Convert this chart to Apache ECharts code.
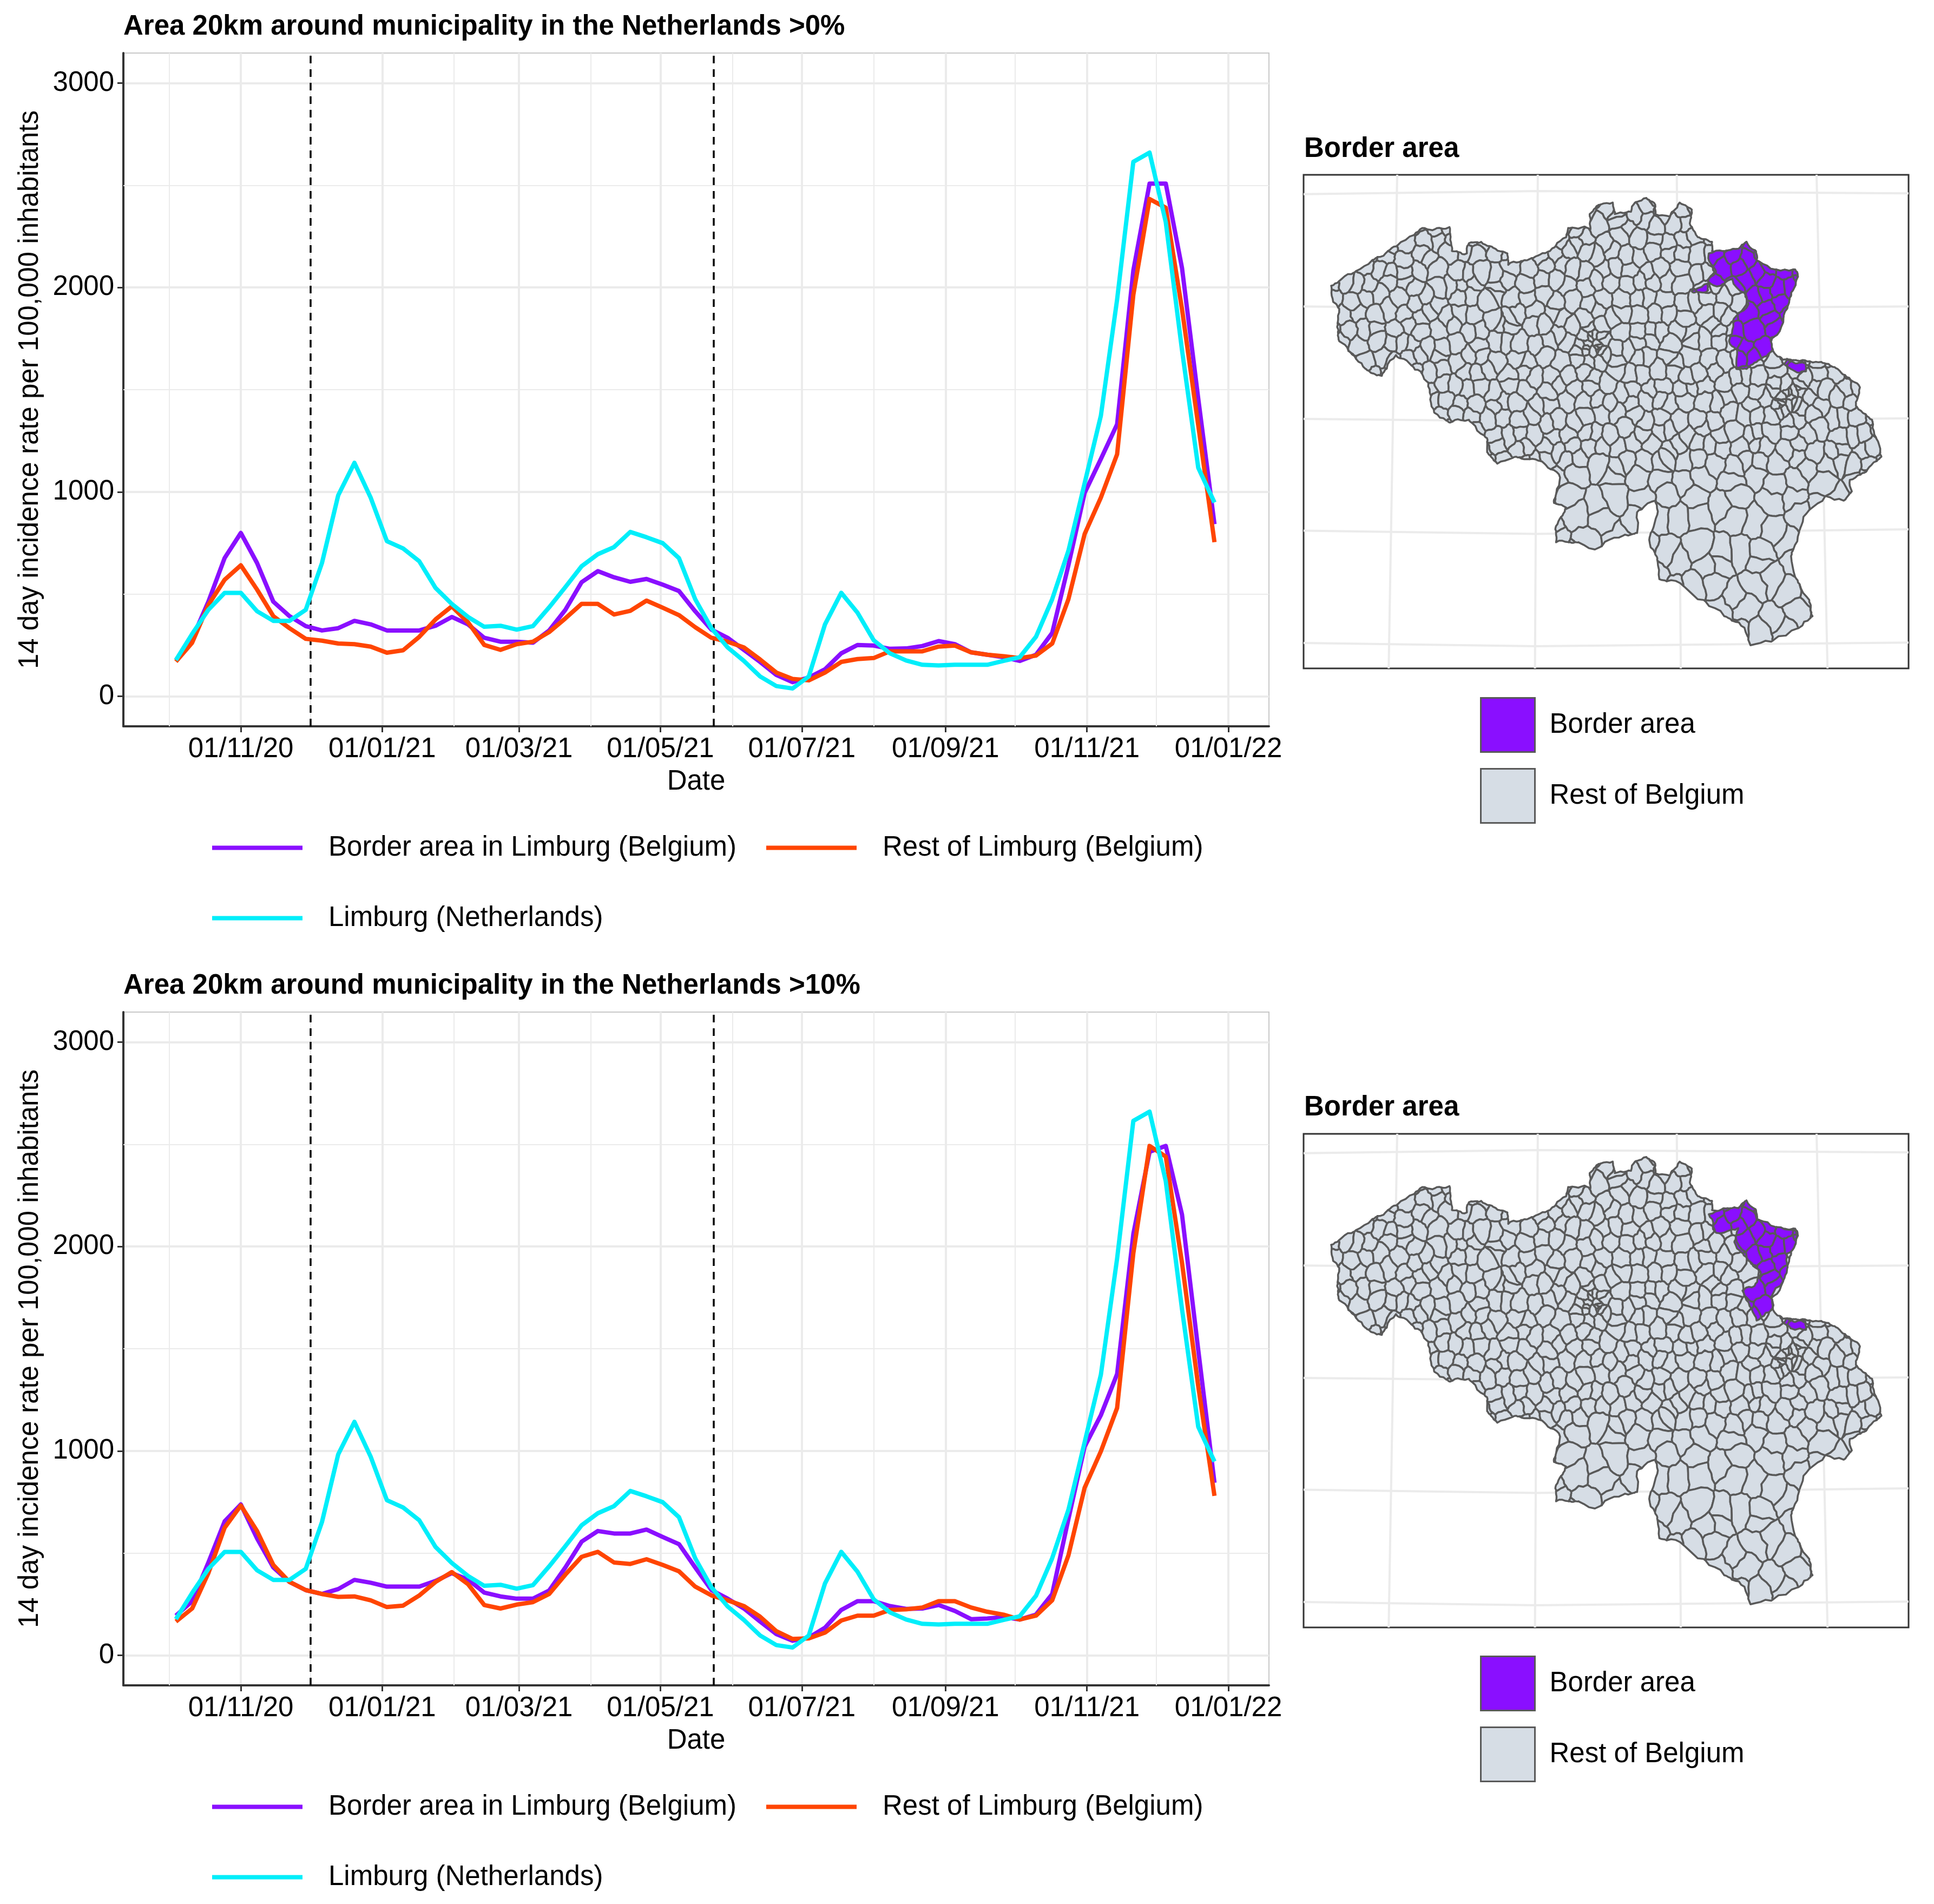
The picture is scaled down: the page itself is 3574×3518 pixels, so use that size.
<!DOCTYPE html>
<html>

<head>
	<meta charset="utf-8">
</head>

<body style="margin: 0; background: #fff">
	<div id="container" style="width: 3574px; height: 3518px;"></div>

	<script type="text/javascript" src="https://cdn.jsdelivr.net/npm/echarts@6/dist/echarts.min.js"></script>
	<script type="text/javascript">
		// weekly dates shared by all curves
		const weekDates = [
			'2020-10-04', '2020-10-11', '2020-10-18', '2020-10-25', '2020-11-01', '2020-11-08', '2020-11-15', '2020-11-22', '2020-11-29',
			'2020-12-06', '2020-12-13', '2020-12-20', '2020-12-27', '2021-01-03', '2021-01-10', '2021-01-17', '2021-01-24', '2021-01-31',
			'2021-02-07', '2021-02-14', '2021-02-21', '2021-02-28', '2021-03-07', '2021-03-14', '2021-03-21', '2021-03-28', '2021-04-04',
			'2021-04-11', '2021-04-18', '2021-04-25', '2021-05-02', '2021-05-09', '2021-05-16', '2021-05-23', '2021-05-30', '2021-06-06',
			'2021-06-13', '2021-06-20', '2021-06-27', '2021-07-04', '2021-07-11', '2021-07-18', '2021-07-25', '2021-08-01', '2021-08-08',
			'2021-08-15', '2021-08-22', '2021-08-29', '2021-09-05', '2021-09-12', '2021-09-19', '2021-09-26', '2021-10-03', '2021-10-10',
			'2021-10-17', '2021-10-24', '2021-10-31', '2021-11-07', '2021-11-14', '2021-11-21', '2021-11-28', '2021-12-05', '2021-12-12',
			'2021-12-19', '2021-12-26'
		];

		const limburgNL = [
			177, 305, 423, 506, 506, 416, 369, 369, 423, 652, 983, 1142, 972, 759, 723, 660, 530, 452, 388, 340, 345, 326, 343, 435, 534,
			636, 695, 730, 804, 778, 749, 676, 475, 333, 239, 173, 97, 50, 38, 97, 352, 506, 409, 274, 210, 175, 154, 151, 154, 154, 154,
			173, 191, 291, 475, 712, 1043, 1373, 1941, 2615, 2660, 2319, 1693, 1118, 948
		];

		const borderAbove0 = [
			177, 281, 463, 676, 799, 652, 463, 392, 343, 322, 333, 369, 352, 322, 322, 322, 345, 388, 352, 286, 267, 267, 262, 322, 423,
			558, 612, 582, 560, 574, 546, 515, 416, 326, 286, 227, 168, 104, 69, 92, 132, 210, 251, 248, 232, 234, 246, 270, 255, 215, 203,
			191, 173, 203, 310, 641, 995, 1161, 1331, 2083, 2508, 2508, 2095, 1456, 842
		];
		const restAbove0 = [
			170, 262, 447, 570, 641, 522, 392, 333, 281, 272, 258, 255, 243, 213, 225, 291, 376, 440, 362, 251, 227, 255, 267, 314, 381,
			452, 452, 400, 418, 468, 433, 397, 338, 286, 267, 239, 180, 116, 85, 78, 116, 168, 182, 187, 220, 220, 220, 243, 248, 215, 203,
			196, 187, 199, 258, 475, 794, 972, 1184, 1964, 2433, 2390, 1894, 1326, 754
		];

		const borderAbove10 = [
			194, 265, 454, 655, 738, 572, 430, 359, 319, 300, 324, 369, 355, 336, 336, 336, 364, 402, 371, 307, 288, 277, 277, 317, 430,
			556, 608, 596, 596, 615, 579, 544, 430, 319, 277, 229, 165, 104, 71, 87, 135, 222, 265, 265, 241, 227, 229, 246, 217, 177, 180,
			187, 175, 199, 300, 667, 1021, 1175, 1376, 2061, 2463, 2492, 2156, 1494, 844
		];
		const restAbove10 = [
			165, 229, 402, 624, 733, 608, 442, 359, 319, 300, 286, 288, 269, 236, 243, 293, 359, 407, 348, 246, 229, 248, 260, 300, 395,
			482, 506, 454, 447, 470, 442, 411, 336, 293, 269, 241, 189, 118, 80, 83, 111, 170, 194, 194, 222, 225, 234, 265, 265, 234, 213,
			199, 175, 194, 269, 489, 820, 998, 1210, 1967, 2492, 2440, 1920, 1317, 780
		];

		const xTickDates = ['2020-11-01', '2021-01-01', '2021-03-01', '2021-05-01', '2021-07-01', '2021-09-01', '2021-11-01', '2022-01-01'];
		const xTickLabels = ['01/11/20', '01/01/21', '01/03/21', '01/05/21', '01/07/21', '01/09/21', '01/11/21', '01/01/22'];
		const xMinorDates = ['2020-10-01', '2020-12-01', '2021-02-01', '2021-04-01', '2021-06-01', '2021-08-01', '2021-10-01', '2021-12-01'];
		const yTicks = [0, 1000, 2000, 3000];
		const yMinor = [500, 1500, 2500];
		const interventionDates = ['2020-12-01', '2021-05-24'];

		// map shapes in the coordinates of the map panel
		const belgiumOutline = [
			[80, 360], [130, 335], [190, 300], [240, 275], [285, 250], [305, 235], [330, 240], [372, 233], [378, 285], [415, 290], [420, 268],
			[450, 265], [480, 278], [515, 290], [517, 315], [560, 305], [590, 295], [620, 285], [660, 255], [665, 235], [705, 232], [720, 238],
			[718, 205], [740, 185], [775, 180], [780, 205], [820, 200], [830, 180], [858, 170], [880, 185], [880, 205], [915, 210], [940, 180],
			[970, 195], [965, 225], [985, 255], [1020, 265], [1020, 285], [1050, 285], [1085, 280], [1105, 265], [1128, 285], [1130, 305],
			[1175, 325], [1225, 325], [1232, 340], [1215, 375], [1205, 410], [1195, 440], [1165, 480], [1170, 500], [1195, 520], [1230, 522],
			[1290, 525], [1330, 540], [1385, 580], [1375, 620], [1415, 650], [1425, 690], [1438, 730], [1395, 765], [1360, 780], [1365, 805],
			[1345, 825], [1300, 815], [1260, 845], [1240, 880], [1215, 945], [1225, 990], [1260, 1040], [1268, 1075], [1235, 1100], [1165, 1130],
			[1115, 1138], [1100, 1100], [1050, 1075], [1000, 1040], [950, 1010], [890, 995], [885, 950], [865, 910], [885, 855], [880, 825],
			[835, 850], [835, 895], [790, 905], [745, 925], [690, 915], [635, 915], [635, 880], [660, 840], [630, 830], [645, 775], [600, 740],
			[535, 730], [490, 745], [465, 720], [465, 690], [420, 650], [370, 655], [335, 635], [320, 570], [300, 545], [240, 510], [205, 555],
			[185, 550], [165, 540], [100, 480], [95, 450], [100, 410], [85, 395]
		];
		const borderAreaAbove0 = [
			[[1012, 290], [1050, 285], [1085, 280], [1105, 265], [1128, 285], [1130, 305], [1175, 325], [1225, 325], [1232, 340], [1215, 375],
				[1205, 410], [1195, 440], [1165, 480], [1170, 500], [1130, 525], [1105, 540], [1080, 540], [1082, 500], [1062, 480], [1075, 430],
				[1110, 400], [1100, 375], [1070, 345], [1040, 360], [1010, 350], [1030, 330], [1015, 310]],
			[[970, 372], [1010, 355], [1010, 370], [975, 375]],
			[[1198, 530], [1205, 518], [1225, 528], [1250, 525], [1252, 545], [1225, 545]]
		];
		const borderAreaAbove10 = [
			[[1012, 294], [1050, 281], [1085, 281], [1105, 264], [1128, 284], [1130, 304], [1175, 321], [1225, 329], [1230, 339], [1225, 359],
				[1205, 379], [1205, 414], [1195, 439], [1165, 474], [1170, 499], [1130, 524], [1118, 499], [1095, 459], [1125, 449], [1140, 419],
				[1100, 384], [1075, 354], [1085, 324], [1030, 334]],
			[[1198, 529], [1205, 519], [1225, 527], [1250, 524], [1252, 544], [1225, 544]]
		];
		const graticule = [
			[[12, 162], [590, 155], [1505, 160]],
			[[12, 405], [585, 410], [1505, 405]],
			[[12, 648], [585, 653], [1505, 647]],
			[[12, 890], [585, 897], [1505, 887]],
			[[12, 1133], [585, 1140], [1505, 1132]],
			[[243, 120], [222, 1188]],
			[[590, 120], [583, 1188]],
			[[933, 120], [943, 1188]],
			[[1278, 120], [1305, 1188]]
		];

		const FONT = 'Liberation Sans';
		const PURPLE = '#8a0fff';
		const RED = '#ff4500';
		const CYAN = '#00eefa';
		const LAND = '#d6dde5';
		const EDGE = '#595959';
		const GRID_COLOR = '#ebebeb';

		const NAME_BORDER = 'Border area in Limburg (Belgium)';
		const NAME_REST = 'Rest of Limburg (Belgium)';
		const NAME_NL = 'Limburg (Netherlands)';

		const toTime = function (d) { return new Date(d).getTime(); };
		const xMin = toTime('2020-09-11T08:00:00Z');
		const xMax = toTime('2022-01-18T12:00:00Z');
		const xTickTimes = xTickDates.map(toTime);

		// the 581 municipality borders can't be read one by one, so the inner
		// lines are an approximate mesh of cells cut out of the traced shapes
		function jitter(i, j) {
			let v = Math.sin(i * 127.1 + j * 311.7) * 43758.5453;
			return v - Math.floor(v);
		}

		function makeSites() {
			let sites = [];
			let y = 165, row = 0;
			while (y < 1150) {
				let south = y > 760;
				let stepX = south ? 60 : 37, stepY = south ? 50 : 32;
				for (let x = 70, col = 0; x < 1450; x += stepX, col++) {
					sites.push([
						x + (row % 2) * stepX / 2 + (jitter(col, row) - 0.5) * stepX * 0.8,
						y + (jitter(row + 40, col + 7) - 0.5) * stepY * 0.8
					]);
				}
				y += stepY;
				row++;
			}
			for (let i = 0; i < 16; i++) {
				sites.push([690 + jitter(i, 90) * 70, 465 + jitter(i, 91) * 50]);
				sites.push([1165 + jitter(i, 92) * 80, 570 + jitter(i, 93) * 60]);
			}
			return sites;
		}

		// keeps the part of poly closer to s than to o; a concave poly can fall apart in pieces
		function clipCloser(poly, s, o) {
			let a = 2 * (o[0] - s[0]), b = 2 * (o[1] - s[1]);
			let c = o[0] * o[0] + o[1] * o[1] - s[0] * s[0] - s[1] * s[1];
			let out = [], flag = [], crossings = [];
			for (let i = 0; i < poly.length; i++) {
				let p = poly[i], q = poly[(i + 1) % poly.length];
				let dp = a * p[0] + b * p[1] - c, dq = a * q[0] + b * q[1] - c;
				if (dp <= 0) { out.push(p); flag.push(0); }
				if ((dp < 0 && dq > 0) || (dp > 0 && dq < 0)) {
					let t = dp / (dp - dq);
					crossings.push(out.length);
					out.push([p[0] + (q[0] - p[0]) * t, p[1] + (q[1] - p[1]) * t]);
					flag.push(dp < 0 ? 1 : 2);
				}
			}
			if (crossings.length <= 2) return out.length > 2 ? [out] : [];
			crossings.sort(function (u, v) {
				return (out[u][1] * a - out[u][0] * b) - (out[v][1] * a - out[v][0] * b);
			});
			let partner = {};
			for (let k = 0; k + 1 < crossings.length; k += 2) {
				partner[crossings[k]] = crossings[k + 1];
				partner[crossings[k + 1]] = crossings[k];
			}
			let pieces = [], seen = {};
			crossings.forEach(function (start) {
				if (flag[start] !== 2 || seen[start]) return;
				let piece = [], j = start, guard = 0;
				do {
					seen[j] = true;
					piece.push(out[j]);
					j = flag[j] === 1 ? partner[j] : (j + 1) % out.length;
				} while (j !== start && guard++ < out.length + 2);
				if (piece.length > 2) pieces.push(piece);
			});
			return pieces;
		}

		// adds a bent midpoint to every edge, the same for both cells next to it
		function roughen(poly) {
			let out = [];
			poly.forEach(function (p, i) {
				let q = poly[(i + 1) % poly.length];
				let forward = Math.round(p[0]) < Math.round(q[0]) || (Math.round(p[0]) === Math.round(q[0]) && Math.round(p[1]) < Math.round(q[1]));
				let u = forward ? p : q, v = forward ? q : p;
				let h = jitter(Math.round(u[0]) + Math.round(v[0]) * 0.37, Math.round(u[1]) + Math.round(v[1]) * 0.73) - 0.5;
				out.push(p);
				out.push([(u[0] + v[0]) / 2 - (v[1] - u[1]) * h * 0.3, (u[1] + v[1]) / 2 + (v[0] - u[0]) * h * 0.3]);
			});
			return out;
		}

		function cutIntoCells(shape, sites) {
			let cells = [];
			sites.forEach(function (s) {
				let parts = [shape];
				for (let k = 0; k < sites.length && parts.length > 0; k++) {
					let o = sites[k];
					if (o === s || Math.abs(o[0] - s[0]) > 260 || Math.abs(o[1] - s[1]) > 260) continue;
					let next = [];
					parts.forEach(function (part) { next = next.concat(clipCloser(part, s, o)); });
					parts = next;
				}
				parts.forEach(function (part) { cells.push(roughen(roughen(part))); });
			});
			return cells;
		}

		const sites = makeSites();
		const landCells = cutIntoCells(belgiumOutline, sites);

		function cellSeries(name, cells, color, axisIndex) {
			return {
				type: 'custom',
				name: name,
				xAxisIndex: axisIndex,
				yAxisIndex: axisIndex,
				silent: true,
				z: 3,
				itemStyle: { color: color, borderColor: EDGE, borderWidth: 3 },
				encode: { x: 0, y: 1 },
				data: cells.map(function (c, i) { return [c[0][0], c[0][1], i]; }),
				renderItem: function (params, api) {
					let cell = cells[api.value(2)];
					return {
						type: 'polygon',
						shape: { points: cell.map(function (p) { return api.coord(p); }) },
						style: { fill: color, stroke: EDGE, lineWidth: 3.5, lineJoin: 'round' }
					};
				}
			};
		}

		function curveSeries(name, values, color, axisIndex) {
			return {
				type: 'line',
				name: name,
				xAxisIndex: axisIndex,
				yAxisIndex: axisIndex,
				symbol: 'none',
				silent: true,
				z: 4,
				lineStyle: { color: color, width: 8, cap: 'butt', join: 'round' },
				itemStyle: { color: color },
				data: weekDates.map(function (d, i) { return [toTime(d), values[i]]; })
			};
		}

		function refLines(axisIndex) {
			let minor = xMinorDates.map(function (d) { return { xAxis: toTime(d), lineStyle: { color: GRID_COLOR, width: 2, type: 'solid' } }; })
				.concat(yMinor.map(function (v) { return { yAxis: v, lineStyle: { color: GRID_COLOR, width: 2, type: 'solid' } }; }))
				.concat(interventionDates.map(function (d) { return { xAxis: toTime(d), lineStyle: { color: '#000', width: 3.5, type: [14, 11] } }; }));
			return {
				type: 'line',
				name: 'reference lines',
				xAxisIndex: axisIndex,
				yAxisIndex: axisIndex,
				symbol: 'none',
				silent: true,
				data: [],
				markLine: { silent: true, animation: false, symbol: ['none', 'none'], label: { show: false }, z: 1, data: minor }
			};
		}

		function lineGrid(top) {
			return { left: 228, top: top, width: 2117, height: 1244, show: true, backgroundColor: '#fff', borderColor: '#c8c8c8', borderWidth: 2 };
		}

		function lineXAxis(gridIndex) {
			return {
				type: 'value',
				gridIndex: gridIndex,
				min: xMin,
				max: xMax,
				name: 'Date',
				nameLocation: 'middle',
				nameGap: 77,
				nameTextStyle: { fontFamily: FONT, fontSize: 51, color: '#000' },
				axisLine: { show: true, onZero: false, lineStyle: { color: '#333', width: 4 } },
				axisTick: { show: true, length: 11, customValues: xTickTimes, lineStyle: { color: '#333', width: 3 } },
				axisLabel: {
					show: true,
					margin: 17,
					fontFamily: FONT,
					fontSize: 51,
					color: '#000',
					customValues: xTickTimes,
					formatter: function (v) { return xTickLabels[xTickTimes.indexOf(v)]; }
				},
				splitLine: { show: true, lineStyle: { color: GRID_COLOR, width: 4 } }
			};
		}

		function lineYAxis(gridIndex) {
			return {
				type: 'value',
				gridIndex: gridIndex,
				min: -147,
				max: 3147,
				name: '14 day incidence rate per 100,000 inhabitants',
				nameLocation: 'middle',
				nameGap: 147,
				nameTextStyle: { fontFamily: FONT, fontSize: 51, color: '#000' },
				axisLine: { show: true, onZero: false, lineStyle: { color: '#333', width: 4 } },
				axisTick: { show: true, length: 11, customValues: yTicks, lineStyle: { color: '#333', width: 3 } },
				axisLabel: {
					show: true,
					margin: 17,
					fontFamily: FONT,
					fontSize: 51,
					color: '#000',
					customValues: yTicks,
					formatter: function (v) { return String(v); }
				},
				splitLine: { show: true, lineStyle: { color: GRID_COLOR, width: 4 } }
			};
		}

		function mapAxes(gridIndex) {
			return {
				x: { type: 'value', gridIndex: gridIndex, min: 12, max: 1505, show: false, splitLine: { show: false } },
				y: { type: 'value', gridIndex: gridIndex, min: 120, max: 1188, inverse: true, show: false, splitLine: { show: false } }
			};
		}

		function graticuleSeries(axisIndex) {
			return graticule.map(function (g) {
				return {
					type: 'line',
					name: 'graticule',
					xAxisIndex: axisIndex,
					yAxisIndex: axisIndex,
					symbol: 'none',
					silent: true,
					z: 1,
					lineStyle: { color: GRID_COLOR, width: 4 },
					data: g
				};
			});
		}

		function lineLegend(name, left, top) {
			return {
				data: [{ name: name, icon: 'rect' }],
				left: left,
				top: top,
				padding: 0,
				itemWidth: 167,
				itemHeight: 8,
				selectedMode: false,
				textStyle: { fontFamily: FONT, fontSize: 51, color: '#000', padding: [0, 0, 0, 43] }
			};
		}

		function swatchLegend(name, top) {
			return {
				data: [{ name: name, icon: 'rect' }],
				left: 2735,
				top: top,
				padding: 0,
				itemWidth: 100,
				itemHeight: 100,
				selectedMode: false,
				itemStyle: { borderColor: EDGE, borderWidth: 3 },
				textStyle: { fontFamily: FONT, fontSize: 51, color: '#000', padding: [0, 0, 0, 22] }
			};
		}

		function titleText(text, left, top) {
			return { text: text, left: left, top: top, padding: 0, textStyle: { fontFamily: FONT, fontSize: 51, fontWeight: 'bold', color: '#000' } };
		}

		const map0 = mapAxes(1);
		const map1 = mapAxes(3);

		const option = {
			animation: false,
			backgroundColor: '#fff',
			title: [
				titleText('Area 20km around municipality in the Netherlands >0%', 228, 24),
				titleText('Border area', 2410, 250),
				titleText('Area 20km around municipality in the Netherlands >10%', 228, 1796),
				titleText('Border area', 2410, 2021)
			],
			grid: [
				lineGrid(98),
				{ left: 2409, top: 323, width: 1118, height: 912, show: true, borderColor: '#333', borderWidth: 3 },
				lineGrid(1870),
				{ left: 2409, top: 2095, width: 1118, height: 912, show: true, borderColor: '#333', borderWidth: 3 }
			],
			xAxis: [lineXAxis(0), map0.x, lineXAxis(2), map1.x],
			yAxis: [lineYAxis(0), map0.y, lineYAxis(2), map1.y],
			legend: [
				lineLegend(NAME_BORDER, 392, 1541),
				lineLegend(NAME_REST, 1416, 1541),
				lineLegend(NAME_NL, 392, 1671),
				lineLegend(NAME_BORDER, 392, 3313),
				lineLegend(NAME_REST, 1416, 3313),
				lineLegend(NAME_NL, 392, 3443),
				swatchLegend('Border area', 1288),
				swatchLegend('Rest of Belgium', 1419),
				swatchLegend('Border area', 3059),
				swatchLegend('Rest of Belgium', 3190)
			],
			series: [].concat(
				refLines(0),
				curveSeries(NAME_BORDER, borderAbove0, PURPLE, 0),
				curveSeries(NAME_REST, restAbove0, RED, 0),
				curveSeries(NAME_NL, limburgNL, CYAN, 0),
				refLines(2),
				curveSeries(NAME_BORDER, borderAbove10, PURPLE, 2),
				curveSeries(NAME_REST, restAbove10, RED, 2),
				curveSeries(NAME_NL, limburgNL, CYAN, 2),
				graticuleSeries(1),
				cellSeries('Rest of Belgium', landCells, LAND, 1),
				cellSeries('Border area', [].concat.apply([], borderAreaAbove0.map(function (s) { return cutIntoCells(s, sites); })), PURPLE, 1),
				graticuleSeries(3),
				cellSeries('Rest of Belgium', landCells, LAND, 3),
				cellSeries('Border area', [].concat.apply([], borderAreaAbove10.map(function (s) { return cutIntoCells(s, sites); })), PURPLE, 3)
			)
		};

		let myChart = echarts.init(document.getElementById('container'));
		myChart.setOption(option);
	</script>
</body>

</html>
